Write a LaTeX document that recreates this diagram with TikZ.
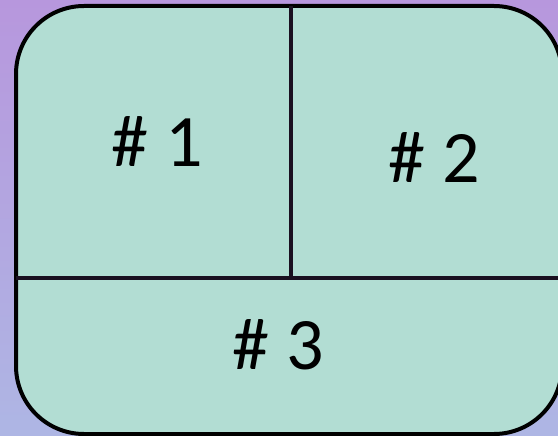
\documentclass[tikz,border=0pt]{standalone}
\usepackage{fontspec}
\setmainfont{Carlito}
\usetikzlibrary{positioning}
\definecolor{bgtop}{HTML}{B797DD}
\definecolor{bgbottom}{HTML}{AEB6E4}
\definecolor{panelfill}{HTML}{B2DDD3}
\definecolor{divider}{HTML}{1A1020}

\begin{document}
\begin{tikzpicture}[
  x=1pt, y=-1pt,
  panel/.style={
    draw=black, fill=panelfill, line width=4pt,
    rounded corners=68pt
  },
  cellnum/.style={
    font=\fontsize{74}{80}\selectfont, text=black, inner sep=0pt
  },
  divline/.style={draw=divider, line width=3.5pt}
]

% background
\shade[top color=bgtop, bottom color=bgbottom] (0,0) rectangle (558,436);
\useasboundingbox (0,0) rectangle (558,436);

% rounded panel
\draw[panel] (16,6) rectangle (562,434);

% dividers
\coordinate (topmid) at (291,6);
\coordinate (midcross) at (291,278);
\coordinate (leftmid) at (16,278);
\coordinate (rightmid) at (560,278);
\draw[divline] (topmid) -- (midcross);
\draw[divline] (leftmid) -- (rightmid);

% labels
\node[cellnum] (one) at (157,142) {\# 1};
\node[cellnum] (two) at (434,158) {\# 2};
\node[cellnum] (three) at (278,345) {\# 3};

\end{tikzpicture}
\end{document}
